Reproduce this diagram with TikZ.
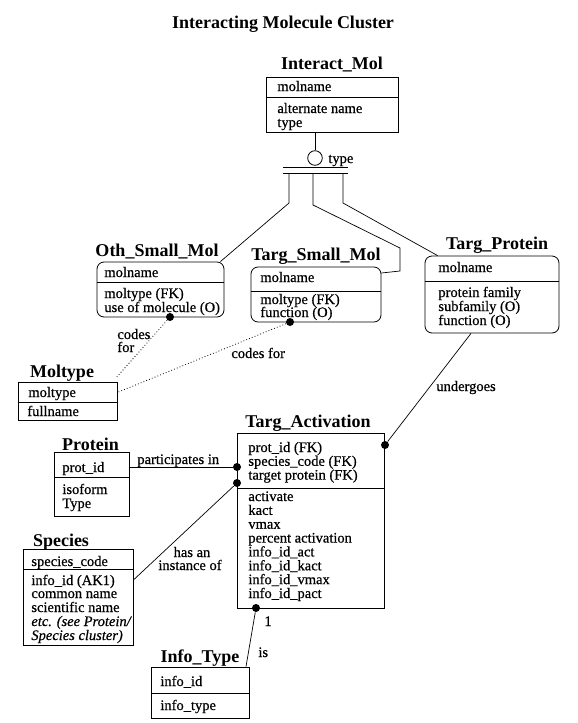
\documentclass[tikz,border=0pt]{standalone}
\usepackage{fontspec}
\setmainfont{Liberation Serif}
\newfontfamily\heavyfam{Liberation Serif}[FakeBold=0.6]
\newcommand\bodyf{\heavyfam\fontsize{14.5}{13.8}\selectfont}
\newcommand\ttlf{\fontsize{18}{20}\selectfont\bfseries}
\begin{document}
\begin{tikzpicture}[x=1pt,y=-1pt,line width=0.8pt,
  sq/.style={draw, inner sep=0pt, line width=0.8pt},
  rd/.style={sq, rounded corners=7pt},
  txt/.style={anchor=base west, inner sep=0pt, font=\bodyf},
  ctxt/.style={anchor=base, inner sep=0pt, font=\bodyf},
  ttl/.style={anchor=base, inner sep=0pt, font=\ttlf},
  dot/.style={circle, fill=black, inner sep=0pt, minimum size=8pt},
  conn/.style={line width=0.7pt},
  dots/.style={line width=0.8pt, dash pattern=on 0.8pt off 2.2pt}]
\useasboundingbox (0,0) rectangle (578,723);
\fill[white] (0,0) rectangle (578,723);

% main title
\node[ttl] (title) at (283,28) {Interacting Molecule Cluster};

% ---------- Interact_Mol
\node[ttl] (imT) at (332,69) {Interact\_Mol};
\node[sq, minimum width=132pt, minimum height=55pt] (im) at (332,104.5) {};
\draw (266,97) -- (398,97);
\node[txt] (im1) at (277,91) {molname};
\node[txt] (im2) at (277,113) {alternate name};
\node[txt] (im3) at (277,127) {type};

% subtype symbol
\node[circle, draw, line width=0.8pt, minimum size=14.6pt, inner sep=0pt] (circ) at (315,158) {};
\node[txt] (circT) at (328,163) {type};
\draw[conn] (im.south -| circ) -- (circ.north);
\coordinate (b1l) at (283,167); \coordinate (b1r) at (348,167);
\coordinate (b2l) at (283,173); \coordinate (b2r) at (348,173);
\draw[conn] (b1l) -- (b1r);
\draw[conn] (b2l) -- (b2r);

% ---------- Oth_Small_Mol
\node[ttl] (osmT) at (157,256) {Oth\_Small\_Mol};
\node[rd, minimum width=127pt, minimum height=55pt] (osm) at (160.5,289.5) {};
\draw (97,282) -- (224,282);
\node[txt] (osm1) at (104,277) {molname};
\node[txt] (osm2) at (104,298) {moltype (FK)};
\node[txt] (osm3) at (104,312) {use of molecule (O)};

% ---------- Targ_Small_Mol
\node[ttl] (tsmT) at (316,260) {Targ\_Small\_Mol};
\node[rd, minimum width=130pt, minimum height=55pt] (tsm) at (316,294.5) {};
\draw (251,291) -- (381,291);
\node[txt] (tsm1) at (260,282) {molname};
\node[txt] (tsm2) at (260,304) {moltype (FK)};
\node[txt] (tsm3) at (260,317) {function (O)};

% ---------- Targ_Protein
\node[ttl] (tpT) at (497,249) {Targ\_Protein};
\node[rd, minimum width=134pt, minimum height=77pt] (tp) at (492,294.5) {};
\draw (425,281) -- (559,281);
\node[txt] (tp1) at (438,272) {molname};
\node[txt] (tp2) at (438,297) {protein family};
\node[txt] (tp3) at (438,311) {subfamily (O)};
\node[txt] (tp4) at (438,325) {function (O)};

% subtype branches
\coordinate (ka1) at (289,173); \coordinate (ka2) at (289,203);
\coordinate (kb1) at (313,173); \coordinate (kb2) at (313,205);
\coordinate (kb3) at (400,248); \coordinate (kb4) at (400,271);
\coordinate (kc1) at (343,173); \coordinate (kc2) at (343,203);
\draw[conn] (ka1) -- (ka2) -- ([xshift=-4pt]osm.north east);
\draw[conn] (kb1) -- (kb2) -- (kb3) -- (kb4) -- ([yshift=21.5pt]tsm.east);
\draw[conn] (kc1) -- (kc2) -- ([xshift=13pt]tp.north west);

% ---------- Moltype
\node[ttl] (mtT) at (62,377) {Moltype};
\node[sq, minimum width=99pt, minimum height=38pt] (mt) at (67.5,401) {};
\draw (18,402) -- (117,402);
\node[txt] (mt1) at (28,397) {moltype};
\node[txt] (mt2) at (27,416) {fullname};

% dotted relationships
\node[dot] (dosm) at (170,317) {};
\node[dot] (dtsm) at (290,322) {};
\draw[dots] (dosm) -- ([xshift=-2pt,yshift=3pt]mt.north east);
\draw[dots] (dtsm) -- ([xshift=1pt,yshift=9pt]mt.east);
\node[txt] (lc1) at (117,339) {codes};
\node[txt] (lc2) at (117,352) {for};
\node[txt] (lc3) at (231,358) {codes for};

% ---------- Targ_Activation
\node[ttl] (taT) at (308,427) {Targ\_Activation};
\node[sq, minimum width=147pt, minimum height=175pt] (ta) at (310.5,520.5) {};
\draw (237,488) -- (384,488);
\foreach \t [count=\i from 0] in {prot\_id (FK), species\_code (FK), target protein (FK)}
  \node[txt] (taa\i) at (248,452+\i*13.8) {\t};
\foreach \t [count=\i from 0] in {activate, kact, vmax, percent activation, info\_id\_act, info\_id\_kact, info\_id\_vmax, info\_id\_pact}
  \node[txt] (tab\i) at (248,501+\i*13.86) {\t};

% ---------- Protein
\node[ttl] (prT) at (90.5,450) {Protein};
\node[sq, minimum width=75pt, minimum height=64pt] (pr) at (91.5,484) {};
\draw (54,477) -- (129,477);
\node[txt] (pr1) at (62,472) {prot\_id};
\node[txt] (pr2) at (62,494) {isoform};
\node[txt] (pr3) at (62,508) {Type};

% ---------- Species
\node[ttl] (spT) at (61,546) {Species};
\node[sq, minimum width=110pt, minimum height=96pt] (sp) at (78,597) {};
\draw (23,569) -- (133,569);
\node[txt] (sp1) at (31,566) {species\_code};
\node[txt] (sp2) at (31,585) {info\_id (AK1)};
\node[txt] (sp3) at (31,598) {common name};
\node[txt] (sp4) at (31,612) {scientific name};
\node[txt] (sp5) at (31,626) {\itshape etc. (see Protein/};
\node[txt] (sp6) at (31,640) {\itshape Species cluster)};

% ---------- Info_Type
\node[ttl] (itT) at (200,662) {Info\_Type};
\node[sq, minimum width=98pt, minimum height=51pt] (it) at (200,692.5) {};
\draw (151,693) -- (249,693);
\node[txt] (it1) at (160,686) {info\_id};
\node[txt] (it2) at (160,710) {info\_type};

% relationships to Targ_Activation
\node[dot] (dta1) at (237,467) {};
\node[dot] (dta2) at (237,483) {};
\node[dot] (dta3) at (385,445) {};
\node[dot] (dta4) at (256,608) {};
\draw[conn] (pr.east |- dta1) -- (dta1);
\draw[conn] ([yshift=17pt]sp.east) -- (dta2);
\draw[conn] ([xshift=-21pt]tp.south) -- (dta3);
\draw[conn] (dta4) -- ([xshift=46pt]it.north);
\node[txt] (lpart) at (137,464) {participates in};
\node[ctxt] (lhas1) at (192,557) {has an};
\node[ctxt] (lhas2) at (190,570) {instance of};
\node[txt] (lund) at (436,391) {undergoes};
\node[txt] (lone) at (264,626) {1};
\node[txt] (lis) at (258,657) {is};
\end{tikzpicture}
\end{document}
